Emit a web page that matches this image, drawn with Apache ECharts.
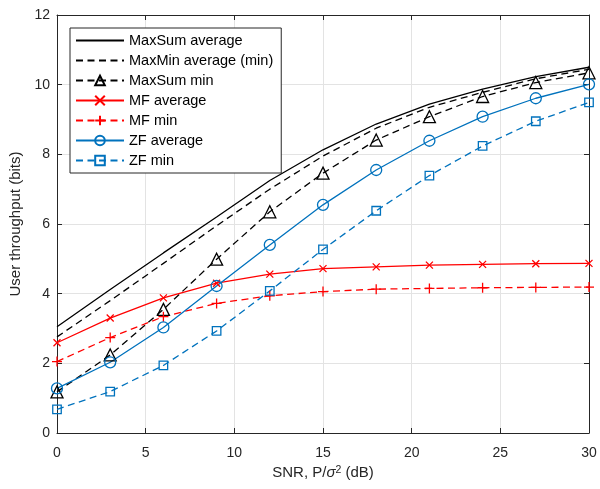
<!DOCTYPE html>
<html>
<head>
<meta charset="utf-8">
<script src="https://cdn.jsdelivr.net/npm/echarts@6/dist/echarts.min.js"></script>
<style>html,body{margin:0;padding:0;background:#fff}#c{width:600px;height:489px}</style>
</head>
<body>
<div id="c"></div>
<script>
var snr = [0, 3, 6, 9, 12, 15, 18, 21, 24, 27, 30];
var xTicks = [0, 5, 10, 15, 20, 25, 30];
var yTicks = [0, 2, 4, 6, 8, 10, 12];
var maxSumAvg = [3.05, 4.12, 5.17, 6.2, 7.25, 8.13, 8.87, 9.44, 9.87, 10.23, 10.5];
var maxMinAvg = [2.76, 3.8, 4.87, 5.95, 7.0, 7.95, 8.75, 9.35, 9.78, 10.17, 10.44];
var maxSumMin = [1.18, 2.24, 3.55, 4.99, 6.35, 7.46, 8.41, 9.08, 9.66, 10.06, 10.34];
var mfAvg = [2.59, 3.3, 3.88, 4.3, 4.56, 4.72, 4.77, 4.82, 4.84, 4.86, 4.87];
var mfMin = [2.05, 2.74, 3.34, 3.72, 3.94, 4.06, 4.13, 4.15, 4.17, 4.18, 4.19];
var zfAvg = [1.28, 2.03, 3.03, 4.22, 5.4, 6.55, 7.55, 8.39, 9.08, 9.61, 10.01];
var zfMin = [0.68, 1.19, 1.94, 2.93, 4.08, 5.27, 6.38, 7.39, 8.24, 8.95, 9.49];
var names = ['MaxSum average', 'MaxMin average (min)', 'MaxSum min', 'MF average', 'MF min', 'ZF average', 'ZF min'];

var FONT = '"Liberation Sans", Arial, Helvetica, sans-serif';
var AX = '#262626';
var RED = '#ff0000', BLUE = '#0072bd', BLK = '#000000';
var DASH = [7, 4.5];

function pair(xs, ys) { return xs.map(function (x, i) { return [x, ys[i]]; }); }

function mk(name, ys, color, dashed, symbol, size) {
  return {
    name: name,
    type: 'line',
    data: pair(snr, ys),
    symbol: symbol || 'none',
    symbolSize: size || 8,
    showSymbol: !!symbol,
    lineStyle: { color: color, width: 1.3, type: dashed ? DASH : 'solid' },
    itemStyle: symbol
      ? { color: 'rgba(0,0,0,0)', borderColor: color, borderWidth: 1.3 }
      : { color: 'rgba(0,0,0,0)', borderColor: 'rgba(0,0,0,0)', borderWidth: 0 },
    emphasis: { disabled: true },
    z: 3
  };
}

var chart = echarts.init(document.getElementById('c'), null, { renderer: 'canvas' });
var axCommon = {
  type: 'value',
  axisLine: { show: true, onZero: false, lineStyle: { color: AX, width: 1 } },
  axisTick: { show: true, inside: true, length: 5, lineStyle: { color: AX, width: 1 } }
};
chart.setOption({
  animation: false,
  backgroundColor: '#ffffff',
  textStyle: { fontFamily: FONT },
  grid: { left: 57, right: 11, top: 15, bottom: 56, containLabel: false },
  legend: {
    data: names,
    orient: 'vertical',
    left: 70,
    top: 28,
    padding: [5, 8, 5, 5],
    itemWidth: 48,
    itemHeight: 12,
    itemGap: 5,
    backgroundColor: '#ffffff',
    borderColor: AX,
    borderWidth: 1,
    borderRadius: 0,
    textStyle: { fontFamily: FONT, fontSize: 14.5, color: '#000' },
    selectedMode: false
  },
  xAxis: [
    Object.assign({}, axCommon, {
      position: 'bottom',
      min: xTicks[0], max: xTicks[xTicks.length - 1], interval: 5,
      axisLabel: { color: AX, fontSize: 14, fontFamily: FONT, margin: 13 },
      splitLine: { show: true, lineStyle: { color: '#e3e3e3', width: 1 } },
      name: 'SNR, P/{s|σ}{sup|2} (dB)',
      nameLocation: 'middle',
      nameGap: 28,
      nameTextStyle: {
        color: AX, fontSize: 15, fontFamily: FONT,
        rich: {
          s: { fontSize: 15, fontStyle: 'italic', color: AX, fontFamily: FONT, verticalAlign: 'bottom' },
          sup: { fontSize: 10.5, color: AX, fontFamily: FONT, verticalAlign: 'top' }
        }
      }
    }),
    Object.assign({}, axCommon, {
      position: 'top',
      min: xTicks[0], max: xTicks[xTicks.length - 1], interval: 5,
      axisLabel: { show: false },
      splitLine: { show: false }
    })
  ],
  yAxis: [
    Object.assign({}, axCommon, {
      position: 'left',
      min: yTicks[0], max: yTicks[yTicks.length - 1], interval: 2,
      axisLabel: { color: AX, fontSize: 14, fontFamily: FONT, margin: 7 },
      splitLine: { show: true, lineStyle: { color: '#e3e3e3', width: 1 } },
      name: 'User throughput (bits)',
      nameLocation: 'middle',
      nameGap: 29,
      nameTextStyle: { color: AX, fontSize: 15, fontFamily: FONT }
    }),
    Object.assign({}, axCommon, {
      position: 'right',
      min: yTicks[0], max: yTicks[yTicks.length - 1], interval: 2,
      axisLabel: { show: false },
      splitLine: { show: false }
    })
  ],
  series: [
    mk(names[0], maxSumAvg, BLK, false, null),
    mk(names[1], maxMinAvg, BLK, true, null),
    mk(names[2], maxSumMin, BLK, true, 'triangle', 12),
    mk(names[3], mfAvg, RED, false, 'path://M0,0L10,10M10,0L0,10', 7),
    mk(names[4], mfMin, RED, true, 'path://M5,0L5,10M0,5L10,5', 10),
    mk(names[5], zfAvg, BLUE, false, 'circle', 11),
    mk(names[6], zfMin, BLUE, true, 'rect', 8.5)
  ]
});
</script>
</body>
</html>
